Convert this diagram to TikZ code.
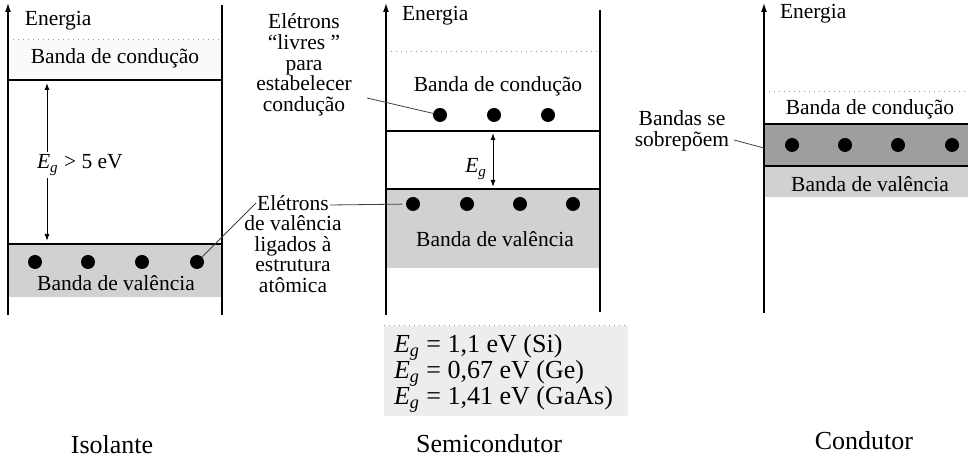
\documentclass[tikz,border=0pt]{standalone}
\usepackage{fontspec}
\setmainfont{Liberation Serif}
\usetikzlibrary{arrows.meta}
\newcommand{\Egsym}{\textit{E}\textsubscript{\textit{g}}}
\tikzset{
  every node/.style={inner sep=0pt, outer sep=0pt},
  lbl/.style={font=\fontsize{10.75}{10.3}\selectfont},
  multi/.style={lbl, align=center},
  egfont/.style={font=\fontsize{13}{14}\selectfont},
  title/.style={font=\fontsize{13}{15}\selectfont},
  bandline/.style={line width=1pt},
  axisline/.style={line width=0.7pt},
  axisarrow/.style={axisline, -{Latex[length=4.5pt,width=3pt]}},
  electron/.style={circle, fill=black, minimum size=7pt},
  lead/.style={line width=0.4pt, black!75},
  gaparrow/.style={line width=0.5pt, {Latex[length=3.5pt,width=2.5pt]}-{Latex[length=3.5pt,width=2.5pt]}},
  valfill/.style={fill=black!18},
  overlapfill/.style={fill=black!38},
  condfill/.style={fill=black!2},
  topedge/.style={black!40, dotted, line width=0.5pt},
}
\begin{document}
\begin{tikzpicture}[x=0.5pt, y=-0.5pt]
\useasboundingbox (0,0) rectangle (968,458);

% ---------------- Isolante ----------------
\fill[condfill] (8,40) rectangle (222,80);
\draw[topedge] (8,40) -- (222,40);
\fill[valfill] (8,244) rectangle (222,297);
\draw[bandline] (8,80) -- (222,80);
\draw[bandline] (8,244) -- (222,244);
\draw[axisarrow] (8,315) -- (8,3);
\draw[axisline] (222,5) -- (222,315);
\node[lbl, anchor=base west] (en1) at (25,26) {Energia};
\node[lbl, anchor=base] (cb1) at (115,64) {Banda de condução};
\node[lbl, anchor=base] (vb1) at (116,291) {Banda de valência};
\node[electron] (i1) at (35,262) {};
\node[electron] (i2) at (88,262) {};
\node[electron] (i3) at (142,262) {};
\node[electron] (i4) at (197,262) {};
\draw[gaparrow] (47,83) -- (47,241);
\node[lbl, fill=white, inner sep=1.5pt, anchor=base west] (eg1) at (34,169) {\Egsym\ > 5 eV};

% ---------------- Semicondutor ----------------
\draw[topedge] (386,52) -- (600,52);
\fill[valfill] (386,189) rectangle (600,268);
\draw[bandline] (386,131) -- (600,131);
\draw[bandline] (386,189) -- (600,189);
\draw[axisarrow] (386,315) -- (386,3);
\draw[axisline] (600,10) -- (600,312);
\node[lbl, anchor=base west] (en2) at (402,21) {Energia};
\node[lbl, anchor=base] (cb2) at (498,92) {Banda de condução};
\node[electron] (s1) at (440,115) {};
\node[electron] (s2) at (494,115) {};
\node[electron] (s3) at (548,115) {};
\draw[gaparrow] (493,133) -- (493,187);
\node[lbl, anchor=base east] (eg2) at (487,173) {\Egsym};
\node[electron] (v1) at (413,204) {};
\node[electron] (v2) at (467,204) {};
\node[electron] (v3) at (520,204) {};
\node[electron] (v4) at (573,204) {};
\node[lbl, anchor=base] (vb2) at (495,247) {Banda de valência};

% Eg values
\fill[black!7] (384,326) rectangle (628,416);
\draw[topedge] (384,326) -- (628,326);
\node[egfont, anchor=base west] (egsi) at (394,353) {\Egsym\ = 1,1 eV (Si)};
\node[egfont, anchor=base west] (egge) at (394,379) {\Egsym\ = 0,67 eV (Ge)};
\node[egfont, anchor=base west] (eggaas) at (394,405) {\Egsym\ = 1,41 eV (GaAs)};

% ---------------- Condutor ----------------
\draw[topedge] (764,92) -- (968,92);
\fill[overlapfill] (764,124) rectangle (968,166);
\fill[valfill] (764,166) rectangle (968,197);
\draw[bandline] (764,124) -- (968,124);
\draw[bandline] (764,166) -- (968,166);
\draw[axisarrow] (764,313) -- (764,3);
\node[lbl, anchor=base west] (en3) at (780,19) {Energia};
\node[lbl, anchor=base] (cb3) at (870,115) {Banda de condução};
\node[electron] (k1) at (792,145) {};
\node[electron] (k2) at (845,145) {};
\node[electron] (k3) at (898,145) {};
\node[electron] (k4) at (952,145) {};
\node[lbl, anchor=base] (vb3) at (870,192) {Banda de valência};

% ---------------- Annotations ----------------
\node[multi] (free) at (304,65) {Elétrons\\“livres ”\\para\\estabelecer\\condução};
\node[multi] (bound) at (293,244) {Elétrons\\de valência\\ligados à\\estrutura\\atômica};
\node[multi] (over) at (682,131) {Bandas se\\sobrepõem};

\coordinate (cfree) at (367,98);
\coordinate (cbh) at (330,205);
\coordinate (cbd) at (256,203);
\coordinate (cover) at (734,140);
\coordinate (coverend) at (764,148);
\draw[lead] (cfree) -- (s1);
\draw[lead, shorten >=2pt] (cbh) -- (v1);
\draw[lead] (cbd) -- (i4);
\draw[lead] (cover) -- (coverend);

% ---------------- Titles ----------------
\node[title, anchor=base] (t1) at (112,453) {Isolante};
\node[title, anchor=base] (t2) at (489,452) {Semicondutor};
\node[title, anchor=base] (t3) at (864,450) {Condutor};
\end{tikzpicture}
\end{document}
